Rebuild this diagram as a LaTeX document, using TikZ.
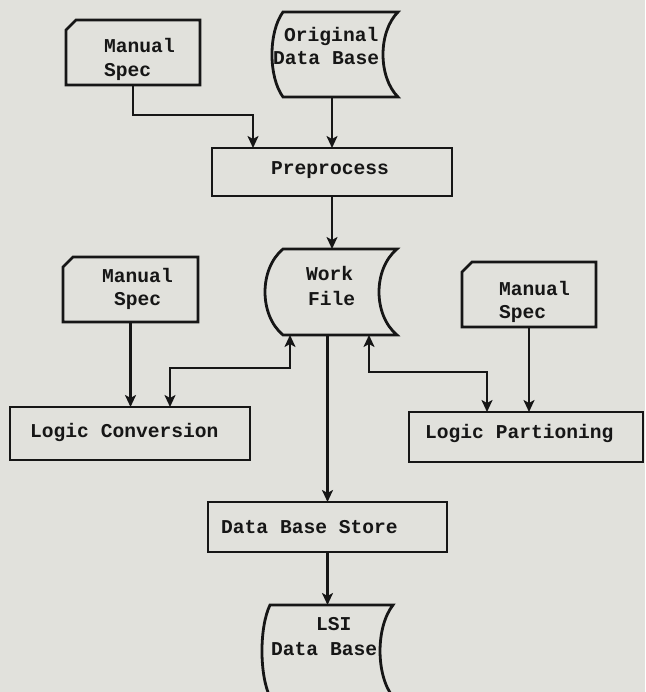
\documentclass[tikz,border=0pt]{standalone}
\usepackage{fontspec}
\setmainfont{Liberation Mono}
\usetikzlibrary{arrows.meta}
\definecolor{paper}{RGB}{225,225,220}
\definecolor{ink}{RGB}{22,22,22}
\begin{document}
\begin{tikzpicture}[x=1pt,y=-1pt,
  ln/.style={draw=ink,line width=2.8pt,line join=miter},
  tip/.tip={Stealth[length=12pt,width=11pt,inset=3pt]},
  arr/.style={ln,-tip},
  darr/.style={ln,tip-tip},
  area/.style={draw=none,inner sep=0pt,outer sep=0pt,minimum width=#1},
  boxnode/.style={ln,inner sep=0pt,outer sep=0pt,minimum width=#1},
  lbl/.style={inner sep=0pt,anchor=base west,font=\fontsize{19.6}{22}\selectfont\bfseries,text=ink}]
\useasboundingbox (0,0) rectangle (645,692);
\fill[paper] (0,0) rectangle (645,692);
\clip (0,0) rectangle (645,692);

% --- shape areas ---
\node[area=134,minimum height=65] (ms1) at (133,52.5) {};
\node[area=126,minimum height=85] (odb) at (335,54.5) {};
\node[boxnode=240,minimum height=48] (pre) at (332,172) {};
\node[area=132,minimum height=86] (wf) at (331,292) {};
\node[area=135,minimum height=65] (ms2) at (130.5,289.5) {};
\node[area=134,minimum height=65] (ms3) at (529,294.5) {};
\node[boxnode=240,minimum height=53] (lc) at (130,433.5) {};
\node[boxnode=234,minimum height=50] (lp) at (526,437) {};
\node[boxnode=239,minimum height=50] (dbs) at (327.5,527) {};
\node[area=131,minimum height=92] (lsi) at (327.5,651) {};

% --- manual spec cards (notched corner) ---
\foreach \n in {ms1,ms2,ms3}{
  \draw[ln] ([yshift=-10pt]\n.north west) -- ([xshift=10pt]\n.north west)
     -- (\n.north east) -- (\n.south east) -- (\n.south west) -- cycle;
}

% --- stored data shapes ---
\draw[ln] ([xshift=11pt]odb.north west) -- (odb.north east)
  .. controls ([xshift=-20pt,yshift=-20pt]odb.north east) and ([xshift=-20pt,yshift=20pt]odb.south east) .. (odb.south east)
  -- ([xshift=11pt]odb.south west)
  .. controls ([xshift=-3.7pt,yshift=20pt]odb.south west) and ([xshift=-3.7pt,yshift=-20pt]odb.north west) .. ([xshift=11pt]odb.north west) -- cycle;
\draw[ln] ([xshift=18pt]wf.north west) -- (wf.north east)
  .. controls ([xshift=-24pt,yshift=-20pt]wf.north east) and ([xshift=-24pt,yshift=20pt]wf.south east) .. (wf.south east)
  -- ([xshift=18pt]wf.south west)
  .. controls ([xshift=-6pt,yshift=20pt]wf.south west) and ([xshift=-6pt,yshift=-20pt]wf.north west) .. ([xshift=18pt]wf.north west) -- cycle;
\draw[ln] ([xshift=8pt]lsi.north west) -- (lsi.north east)
  .. controls ([xshift=-17.3pt,yshift=-22pt]lsi.north east) and ([xshift=-17.3pt,yshift=22pt]lsi.south east) .. (lsi.south east)
  -- ([xshift=8pt]lsi.south west)
  .. controls ([xshift=-2.7pt,yshift=22pt]lsi.south west) and ([xshift=-2.7pt,yshift=-22pt]lsi.north west) .. ([xshift=8pt]lsi.north west) -- cycle;

% --- texts ---
\node[lbl] (t1) at (104,53) {Manual};
\node[lbl] (t2) at (104,77) {Spec};
\node[lbl] (t3) at (284,42) {Original};
\node[lbl] (t4) at (273,65) {Data Base};
\node[lbl] (t5) at (271,175) {Preprocess};
\node[lbl] (t6) at (306,280) {Work};
\node[lbl] (t7) at (308,305) {File};
\node[lbl] (t8) at (102,282) {Manual};
\node[lbl] (t9) at (114,305) {Spec};
\node[lbl] (t10) at (499,295) {Manual};
\node[lbl] (t11) at (499,318) {Spec};
\node[lbl] (t12) at (30,437) {Logic Conversion};
\node[lbl] (t13) at (425,438) {Logic Partioning};
\node[lbl] (t14) at (221,533) {Data Base Store};
\node[lbl] (t15) at (316,630) {LSI};
\node[lbl] (t16) at (271,655) {Data Base};

% --- connectors ---
\draw[arr] (ms1.south) -- ++(0,30) -| ([xshift=41pt]pre.north west);
\draw[arr] (pre.north |- odb.south) -- (pre.north);
\draw[arr] (pre.south) -- (pre.south |- wf.north);
\draw[arr] (ms2.south) -- (ms2.south |- lc.north);
\draw[arr] (ms3.south) -- (ms3.south |- lp.north);
\draw[darr] ([xshift=160pt]lc.north west) -- ++(0,-39) -| ([xshift=25pt]wf.south west);
\draw[darr] ([xshift=104pt]wf.south west) -- ++(0,37) -| ([xshift=78pt]lp.north west);
\draw[arr] (dbs.north |- wf.south) -- (dbs.north);
\draw[arr] (dbs.south) -- (dbs.south |- lsi.north);
\end{tikzpicture}
\end{document}
